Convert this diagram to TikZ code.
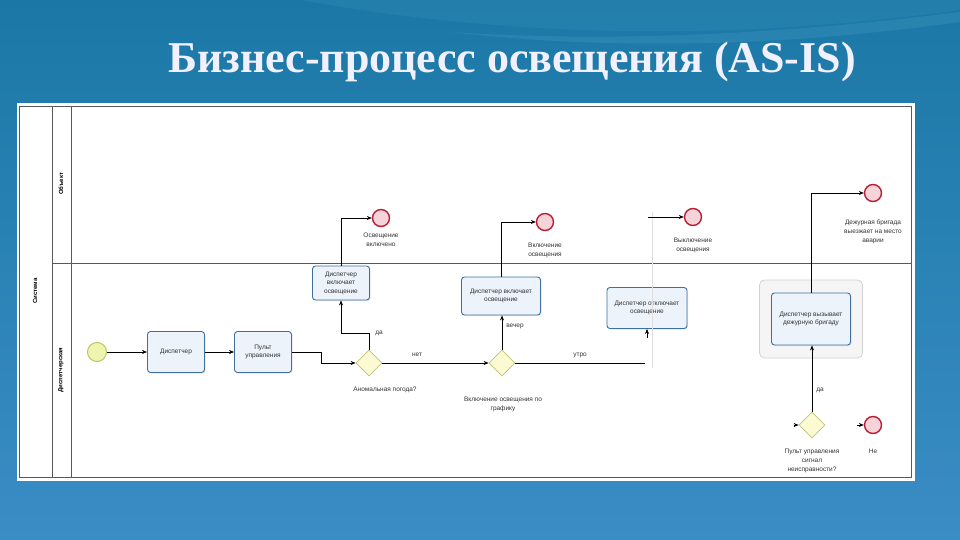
\documentclass[tikz,border=0pt]{standalone}
\usepackage{fontspec}
\setmainfont{Liberation Serif}
\newfontfamily\diagfont{Liberation Sans}
\usetikzlibrary{shapes.geometric,arrows.meta,shadows}
\definecolor{bgtop}{HTML}{1B78A6}
\definecolor{bgmid}{HTML}{246C9C}
\definecolor{bgbot}{HTML}{3A8DC5}
\definecolor{taskline}{HTML}{3F6F9E}
\definecolor{taskfill}{HTML}{EDF3FB}
\definecolor{endline}{HTML}{B81E35}
\definecolor{endfill}{HTML}{F6D3D8}
\definecolor{gateline}{HTML}{C2C27A}
\definecolor{gatefill}{HTML}{FBFAD2}
\definecolor{startline}{HTML}{B9C85A}
\definecolor{startfill}{HTML}{EEF5B0}
\tikzset{
  task/.style={draw=taskline, rounded corners=3pt, fill=taskfill, line width=0.9pt,
    minimum width=57pt, minimum height=40pt, align=center, inner sep=1pt,
    font=\diagfont\fontsize{6.5}{8.5}\selectfont, text=black!80,
    drop shadow={shadow xshift=1pt, shadow yshift=-1pt, opacity=0.2}},
  endev/.style={circle, draw=endline, line width=1.4pt, fill=endfill, minimum size=17pt, inner sep=0pt},
  gate/.style={diamond, draw=gateline, fill=gatefill, line width=0.8pt, minimum size=26pt, inner sep=0pt},
  lbl/.style={font=\diagfont\fontsize{6.5}{9}\selectfont, align=center, text=black!80, inner sep=0pt},
  lane/.style={font=\diagfont\bfseries\fontsize{6}{7}\selectfont, rotate=90, inner sep=0pt},
  flow/.style={-{Stealth[length=5pt,width=4pt]}, line width=0.6pt}
}
\begin{document}
\begin{tikzpicture}[x=1pt,y=-1pt]
  \useasboundingbox (0,0) rectangle (960,540);
  \shade[top color=bgtop, middle color=bgmid, bottom color=bgbot] (0,0) rectangle (960,540);
  \fill[cyan!50!white, opacity=0.07] (300,0) .. controls (550,45) and (780,35) .. (960,10) -- (960,0) -- cycle;
  \fill[cyan!40!white, opacity=0.10] (450,32) .. controls (650,45) and (830,28) .. (960,12) -- (960,22) .. controls (830,40) and (650,55) .. (450,32) -- cycle;
  \node[font=\bfseries\fontsize{44}{46}\selectfont, text=white!94!blue, inner sep=0pt] (title) at (512,62) {Бизнес-процесс освещения (AS-IS)};

  \fill[white] (17,103) rectangle (915,481);
  \draw[black!65, line width=0.6pt] (19,106) rectangle (911,477);
  \draw[black!65, line width=0.6pt] (52,106) -- (52,477);
  \draw[black!65, line width=0.6pt] (71,106) -- (71,477);
  \draw[black!65, line width=0.6pt] (52,263) -- (911,263);
  \node[lane] (pool) at (35,291) {Система};
  \node[lane] (obj) at (61,184) {Объект};
  \node[lane] (displane) at (61,370) {Диспетчерская};

  \node[circle, draw=startline, fill=startfill, line width=1pt, minimum size=19pt] (start) at (97,352) {};
  \node[task, minimum height=41pt] (disp) at (176,352) {Диспетчер};
  \node[task, minimum height=41pt] (pult) at (263,352) {Пульт\\управления};
  \node[gate] (g1) at (369,363) {};
  \node[gate] (g2) at (502,363) {};
  \node[task, minimum height=34pt] (vkl1) at (341,283) {Диспетчер\\включает\\освещение};
  \node[task, minimum width=79pt, minimum height=38pt] (vkl2) at (501,296) {Диспетчер включает\\освещение};
  \node[task, minimum width=80pt, minimum height=41pt] (otkl) at (647,308) {Диспетчер отключает\\освещение};
  \node[draw=gray!35, fill=gray!8, rounded corners=5pt, line width=0.8pt, minimum width=103pt, minimum height=78pt] (grp) at (811,319) {};
  \node[task, minimum width=79pt, minimum height=52pt] (brig) at (811,319) {Диспетчер вызывает\\дежурную бригаду};
  \node[gate] (g3) at (812,425) {};

  \node[endev] (e1) at (381,218) {};
  \node[endev] (e2) at (545,222) {};
  \node[endev] (e3) at (693,217) {};
  \node[endev] (e4) at (873,193) {};
  \node[endev] (e5) at (873,425) {};

  \node[lbl] (e1l) at (381,240) {Освещение\\включено};
  \node[lbl] (e2l) at (545,250) {Включение\\освещения};
  \node[lbl] (e3l) at (693,245) {Выключение\\освещения};
  \node[lbl] (e4l) at (873,232) {Дежурная бригада\\выезжает на место\\аварии};
  \node[lbl] (e5l) at (873,451) {Не};
  \node[lbl] (g1l) at (385,390) {Аномальная погода?};
  \node[lbl] (g2l) at (503,404) {Включение освещения по\\графику};
  \node[lbl] (g3l) at (812,461) {Пульт управления\\сигнал\\неисправности?};
  \node[lbl] (da1) at (379,333) {да};
  \node[lbl] (net) at (417,355) {нет};
  \node[lbl] (vecher) at (515,326) {вечер};
  \node[lbl] (utro) at (580,355) {утро};
  \node[lbl] (da2) at (820,390) {да};

  \coordinate (utroend) at (645,363);
  \coordinate (s3) at (648,217);
  \coordinate (s4) at (647,338);
  \coordinate (s5) at (794,425);
  \coordinate (s6) at (857,425);

  \draw[gray!25] (652,212) -- (652,368);
  \draw[flow] (start) -- (disp);
  \draw[flow] (disp) -- (pult);
  \draw[flow] (pult.east) -- ++(29,0) |- (g1.west);
  \draw[flow] (g1.north) -- ++(0,-16) -| (vkl1.south);
  \draw[flow] (vkl1.north) |- (e1.west);
  \draw[flow] (g1.east) -- (g2.west);
  \draw[flow] (g2.north) -- (g2.north |- vkl2.south);
  \draw[flow] (vkl2.north) |- (e2.west);
  \draw[line width=0.6pt] (g2.east) -- (utroend);
  \draw[flow] (s3) -- (e3.west);
  \draw[flow] (s4) -- (otkl.south);
  \draw[flow] (brig.north) |- (e4.west);
  \draw[flow] (g3.north) -- (g3.north |- brig.south);
  \draw[flow] (s5) -- (g3.west);
  \draw[flow] (s6) -- (e5.west);
\end{tikzpicture}
\end{document}
